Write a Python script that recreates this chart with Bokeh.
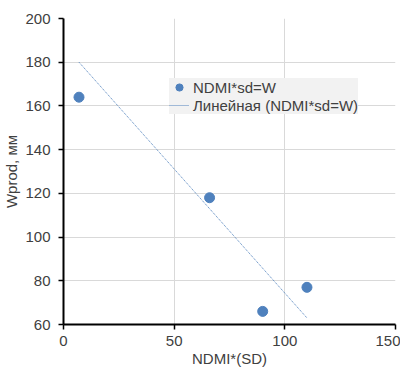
from bokeh.plotting import figure
from bokeh.models import Range1d, Legend, LegendItem, FixedTicker
from bokeh.embed import file_html
from bokeh.resources import INLINE

# data
ndmi_sd = [7, 66, 90, 110]
wprod = [164, 118, 66, 77]
trend_x = [7, 110]
trend_y = [180, 63]
x_ticks = [0, 50, 100, 150]
y_ticks = [60, 80, 100, 120, 140, 160, 180, 200]

FONT = "Liberation Sans"
BLUE = "#4F81BD"

p = figure(frame_width=332, frame_height=306, output_backend="svg", toolbar_location=None,
           x_range=Range1d(0, 150), y_range=Range1d(60, 200))
p.min_border_left = 59
p.min_border_right = 5
p.min_border_top = 18
p.min_border_bottom = 36
p.outline_line_color = None

line_r = p.line(trend_x, trend_y, line_color=BLUE, line_width=1, line_dash="1 1")
pts = p.scatter(ndmi_sd, wprod, size=10, fill_color=BLUE, line_color=BLUE)

for ax in (p.xaxis[0], p.yaxis[0]):
    ax.axis_line_color = "black"
    ax.axis_line_width = 2
    ax.major_tick_line_color = "black"
    ax.major_tick_line_width = 1.5
    ax.major_tick_out = 5
    ax.major_tick_in = 0
    ax.minor_tick_line_color = None
    ax.major_label_text_font = FONT
    ax.major_label_text_font_size = "15px"
    ax.major_label_text_color = "#404040"
    ax.axis_label_text_font = FONT
    ax.axis_label_text_font_size = "15px"
    ax.axis_label_text_font_style = "normal"
    ax.axis_label_text_color = "#404040"

p.xaxis.ticker = FixedTicker(ticks=x_ticks)
p.yaxis.ticker = FixedTicker(ticks=y_ticks)
p.xaxis.axis_label = "NDMI*(SD)"
p.yaxis.axis_label = "Wprod, мм"
p.xaxis.major_label_standoff = 6
p.xaxis.axis_label_standoff = 1
p.yaxis.major_label_standoff = 8
p.yaxis.axis_label_standoff = 2

p.xgrid.ticker = FixedTicker(ticks=x_ticks)
p.ygrid.ticker = FixedTicker(ticks=y_ticks)
p.grid.grid_line_color = "#d9d9d9"
p.grid.grid_line_width = 1

legend = Legend(items=[LegendItem(label="NDMI*sd=W", renderers=[pts]),
                       LegendItem(label="Линейная (NDMI*sd=W)", renderers=[line_r])],
                location=(106, 210))
legend.background_fill_color = "#f2f2f2"
legend.background_fill_alpha = 1
legend.border_line_color = None
legend.label_text_font = FONT
legend.label_text_font_size = "15px"
legend.label_text_color = "#404040"
legend.padding = 5
legend.spacing = 0
legend.margin = 0
legend.label_height = 18
legend.glyph_height = 18
legend.glyph_width = 20
legend.label_standoff = 4
p.add_layout(legend, "center")

open("out.html", "w").write(file_html(p, INLINE))
